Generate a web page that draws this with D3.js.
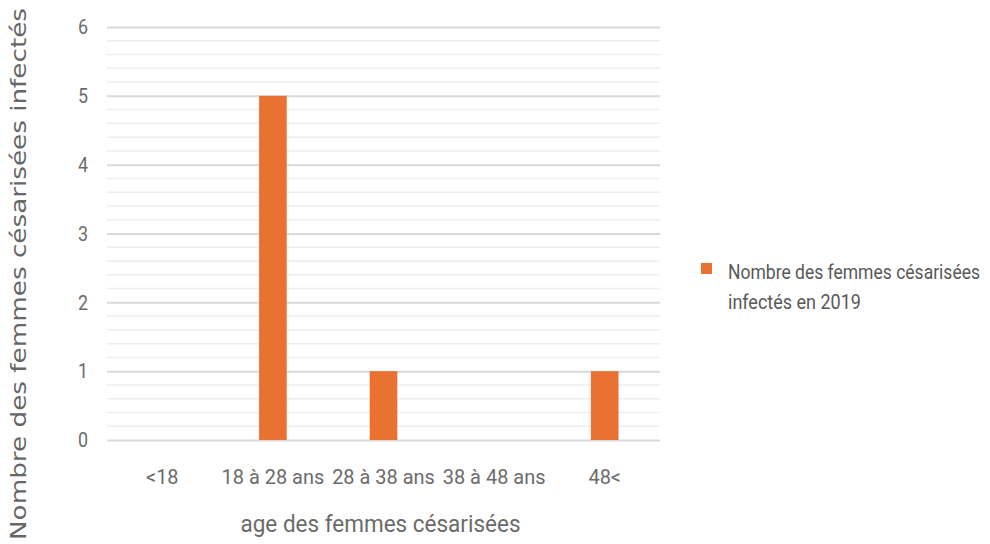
<!DOCTYPE html>
<html>
<head>
<meta charset="utf-8">
<script src="https://cdn.jsdelivr.net/npm/d3@7"></script>
<style>
  body { margin: 0; background: white; }
  svg { display: block; }
</style>
</head>
<body>
<svg id="chart"></svg>
<script>
// data
var categories = ["<18", "18 à 28 ans", "28 à 38 ans", "38 à 48 ans", "48<"]
var values = [0, 5, 1, 0, 1]
var yTicks = [0, 1, 2, 3, 4, 5, 6]
var seriesName = ["Nombre des femmes césarisées", "infectés en 2019"]

var dimensions = {
    width: 990,
    height: 544,
    margin: { top: 27, bottom: 104, left: 107, right: 330 }
}

var svg = d3.select("#chart")
    .attr("width", dimensions.width)
    .attr("height", dimensions.height)

var narrow = "Roboto, 'Open Sans', sans-serif"

// squeeze a text to a width, like the condensed font in the picture
function fitWidth(sel, ratio) {
    sel.each(function() {
        var w = this.getComputedTextLength()
        d3.select(this)
            .attr("textLength", w * ratio)
            .attr("lengthAdjust", "spacingAndGlyphs")
    })
}

var x = d3.scaleBand()
    .domain(categories)
    .range([dimensions.margin.left, dimensions.width - dimensions.margin.right])
    .paddingInner(0.75)
    .paddingOuter(0.375)

var y = d3.scaleLinear()
    .domain([0, 6])
    .range([dimensions.height - dimensions.margin.bottom, dimensions.margin.top])

// minor gridlines every 0.2
var minor = d3.range(0, 6.01, 0.2).filter(v => Math.abs(v - Math.round(v)) > 0.01)
svg.append("g").selectAll("line")
    .data(minor)
    .enter()
    .append("line")
    .attr("x1", dimensions.margin.left)
    .attr("x2", dimensions.width - dimensions.margin.right)
    .attr("y1", d => y(d))
    .attr("y2", d => y(d))
    .attr("stroke", "#eeeeee")
    .attr("stroke-width", 1.5)

// major gridlines via axis
var yAxis = svg.append("g")
    .style("transform", `translateX(${dimensions.margin.left}px)`)
    .call(d3.axisLeft(y).tickValues(yTicks).tickFormat(d3.format("d"))
        .tickSize(-(dimensions.width - dimensions.margin.left - dimensions.margin.right))
        .tickPadding(19))
yAxis.select(".domain").remove()
yAxis.selectAll(".tick line").attr("stroke", "#d9d9d9").attr("stroke-width", 2)
yAxis.selectAll(".tick text")
    .style("font-family", narrow)
    .style("font-size", "21px")
    .attr("fill", "#6b6b6b")
    .call(fitWidth, 0.85)

// bars
svg.append("g").selectAll("rect")
    .data(values)
    .enter()
    .append("rect")
    .attr("x", (d, i) => x(categories[i]))
    .attr("width", x.bandwidth())
    .attr("y", d => y(d))
    .attr("height", d => y(0) - y(d))
    .attr("fill", "#e97132")

// x axis labels
var xAxis = svg.append("g")
    .style("transform", `translateY(${y(0)}px)`)
    .call(d3.axisBottom(x).tickSize(0).tickPadding(29))
xAxis.select(".domain").remove()
xAxis.selectAll(".tick text")
    .style("font-family", narrow)
    .style("font-size", "21px")
    .attr("fill", "#6b6b6b")
    .call(fitWidth, 0.95)

// x axis title
svg.append("text")
    .attr("x", (dimensions.margin.left + dimensions.width - dimensions.margin.right) / 2 - 3)
    .attr("y", 532)
    .text("age des femmes césarisées")
    .style("font-family", narrow)
    .style("font-size", "23px")
    .style("text-anchor", "middle")
    .attr("fill", "#6b6b6b")
    .attr("textLength", 280)
    .attr("lengthAdjust", "spacingAndGlyphs")

// y axis title
svg.append("text")
    .attr("transform", "translate(26, 274) rotate(-90)")
    .text("Nombre des femmes césarisées infectés")
    .style("font-family", "'DejaVu Sans', Verdana, sans-serif")
    .style("font-size", "21px")
    .style("text-anchor", "middle")
    .attr("fill", "#666666")
    .attr("textLength", 532)
    .attr("lengthAdjust", "spacingAndGlyphs")

// legend
var legend = svg.append("g").style("transform", "translate(701px, 263px)")
legend.append("rect")
    .attr("width", 11)
    .attr("height", 11)
    .attr("fill", "#e97132")
legend.selectAll("text.lbl")
    .data(seriesName)
    .enter()
    .append("text")
    .attr("class", "lbl")
    .attr("x", 27)
    .attr("y", (d, i) => 16 + i * 30)
    .text(d => d)
    .style("font-family", narrow)
    .style("font-size", "20px")
    .attr("fill", "#595959")
    .call(fitWidth, 0.9)
// keep the first line clear of the right edge
legend.select("text.lbl").attr("textLength", 252)
</script>
</body>
</html>
